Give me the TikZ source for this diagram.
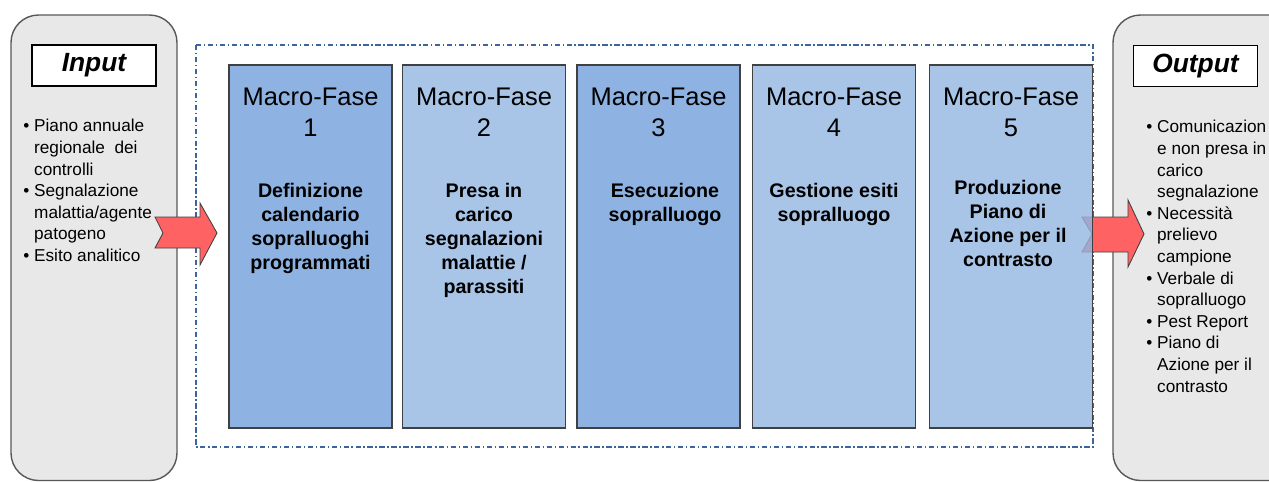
\documentclass[tikz,border=0pt]{standalone}
\usepackage{fontspec}
\setmainfont{Liberation Sans}

\definecolor{faseDark}{RGB}{142,179,226}
\definecolor{faseLight}{RGB}{168,197,232}
\definecolor{faseFive}{RGB}{146,182,226}
\definecolor{panelGray}{RGB}{232,232,232}
\definecolor{panelLine}{RGB}{88,88,88}
\definecolor{arrowRed}{RGB}{255,98,98}
\definecolor{frameBlue}{RGB}{62,100,158}

\tikzset{
  panel/.style={draw=panelLine, line width=0.8pt, fill=panelGray, rounded corners=0.55cm},
  titlebox/.style={draw=black, line width=0.6pt, fill=white, inner sep=0pt,
    minimum width=2.48cm, minimum height=0.82cm, font=\fontsize{15}{17}\selectfont\bfseries\itshape},
  fasebox/.style={draw=black!75, line width=0.9pt, minimum width=3.26cm, minimum height=7.26cm},
  fasehead/.style={anchor=north, align=center, inner sep=0pt, font=\fontsize{14.5}{17.6}\selectfont},
  fasetext/.style={anchor=north, align=center, inner sep=0pt, font=\fontsize{11.2}{13.6}\selectfont\bfseries},
  bullets/.style={anchor=north west, align=left, inner sep=0pt, font=\fontsize{9.8}{12.3}\selectfont},
  blockarrow/.style={draw=black!75, line width=0.5pt, fill=arrowRed},
  frame/.style={draw=frameBlue, line width=0.6pt, dash pattern=on 3pt off 1.5pt on 0.8pt off 1.5pt}
}

\newcommand{\hang}{\hphantom{\textbullet\ }}

\begin{document}
\begin{tikzpicture}[x=0.02cm, y=-0.02cm]
% Page size of the picture
\useasboundingbox (0,0) rectangle (1269,481);
\clip (0,0) rectangle (1269,481);

% Dashed frame round the macro phases
\draw[frame] (196,45) rectangle (1093,447);

% Input and output panels
\draw[panel] (11,15) rectangle (177,480.5);
\draw[panel] (1113,15) rectangle (1320,480.5);

% Block arrows
\draw[blockarrow] (155,217) -- (200,217) -- (200,203) -- (217,233) -- (200,265) -- (200,248) -- (155,248) -- (163,233) -- cycle;
\draw[blockarrow] (1082,217) -- (1128,217) -- (1128,200) -- (1144,234) -- (1128,267) -- (1128,252) -- (1082,252) -- (1092,234) -- cycle;

% Macro phase boxes
\node[fasebox, fill=faseDark] (f1) at (310.5,246.5) {};
\node[fasebox, fill=faseLight] (f2) at (484,246.5) {};
\node[fasebox, fill=faseDark] (f3) at (658.5,246.5) {};
\node[fasebox, fill=faseLight] (f4) at (834,246.5) {};
\node[fasebox, fill=faseFive, fill opacity=0.8] (f5) at (1011,246.5) {};

\node[fasehead] (h1) at (310.5,88) {Macro-Fase\\1};
\node[fasetext] (t1) at (310.5,183) {Definizione\\calendario\\sopralluoghi\\programmati};
\node[fasehead] (h2) at (484,88) {Macro-Fase\\2};
\node[fasetext] (t2) at (484,183) {Presa in\\carico\\segnalazioni\\malattie /\\parassiti};
\node[fasehead] (h3) at (658.5,88) {Macro-Fase\\3};
\node[fasetext] (t3) at (665,183) {Esecuzione\\sopralluogo};
\node[fasehead] (h4) at (834,88) {Macro-Fase\\4};
\node[fasetext] (t4) at (834,183) {Gestione esiti\\sopralluogo};
\node[fasehead] (h5) at (1011,88) {Macro-Fase\\5};
\node[fasetext] (t5) at (1008,180) {Produzione\\Piano di\\Azione per il\\contrasto};

% Titles and lists of the panels
\node[titlebox] (intitle) at (94,65.5) {Input};
\node[titlebox] (outtitle) at (1195.5,66) {Output};

\node[bullets] (inlist) at (23,119) {\textbullet\ Piano annuale\\\hang regionale\ \ dei\\\hang controlli\\\textbullet\ Segnalazione\\\hang malattia/agente\\\hang patogeno\\\textbullet\ Esito analitico};
\node[bullets] (outlist) at (1146,120) {\textbullet\ Comunicazion\\\hang e non presa in\\\hang carico\\\hang segnalazione\\\textbullet\ Necessità\\\hang prelievo\\\hang campione\\\textbullet\ Verbale di\\\hang sopralluogo\\\textbullet\ Pest Report\\\textbullet\ Piano di\\\hang Azione per il\\\hang contrasto};
\end{tikzpicture}
\end{document}
